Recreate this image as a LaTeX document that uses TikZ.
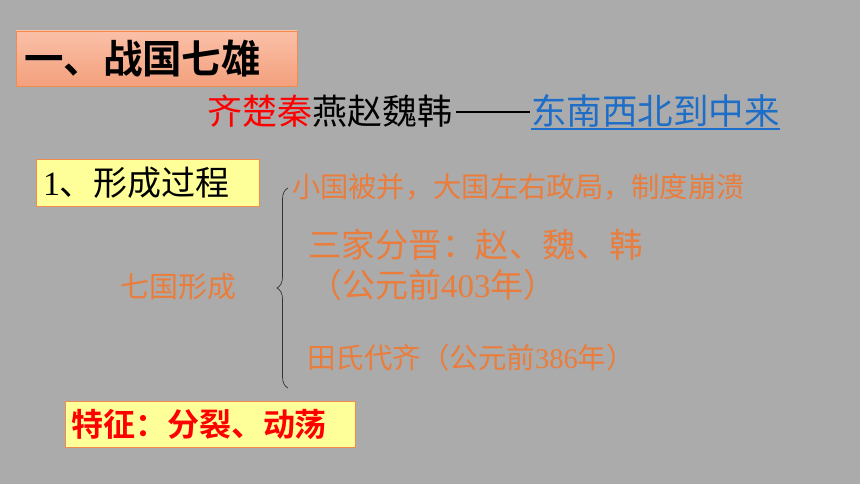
\documentclass[tikz,border=0pt]{standalone}
\usepackage{fontspec}
\setmainfont{Noto Sans CJK SC}[BoldFont={Noto Sans CJK SC Bold}]
\newfontfamily\cjk{Noto Sans CJK SC}[BoldFont={Noto Sans CJK SC Bold}]
\newfontfamily\numf{Liberation Serif}
\usetikzlibrary{decorations.pathreplacing}
\definecolor{bg}{RGB}{171,171,171}
\definecolor{salmonA}{RGB}{250,192,168}
\definecolor{salmonB}{RGB}{243,160,124}
\definecolor{boxline}{RGB}{240,140,80}
\definecolor{paleyellow}{RGB}{255,255,153}
\definecolor{orangetxt}{RGB}{235,125,60}
\definecolor{linkblue}{RGB}{30,110,200}
\definecolor{redtxt}{RGB}{255,0,0}
\tikzset{
  txt/.style={anchor=west,inner sep=0pt,outer sep=0pt},
  ybox/.style={draw=boxline,fill=paleyellow,line width=0.8pt,inner sep=0pt},
}
\begin{document}
\begin{tikzpicture}[x=1pt,y=-1pt]
\fill[bg] (0,0) rectangle (860,484);
\useasboundingbox (0,0) rectangle (860,484);
% title box
\shade[top color=salmonA,bottom color=salmonB,draw=boxline,line width=0.8pt] (16,31) rectangle (297,86);
\node[txt,font=\bfseries\fontsize{39.5}{41}\selectfont] (title) at (24,59) {一、战国七雄};
% mnemonic line
\node[txt,font=\fontsize{35}{37}\selectfont] (mn) at (207,111) {\textcolor{redtxt}{齐楚秦}燕赵魏韩};
\node[txt,linkblue,font=\fontsize{35.5}{37}\selectfont] (link) at (531,111) {东南西北到中来};
\coordinate (dashA) at (456,112);
\coordinate (dashB) at (530,112);
\draw[black,line width=1.8pt] (dashA) -- (dashB);
\coordinate (ulA) at (531,129);
\coordinate (ulB) at (780,129);
\draw[linkblue,line width=1.2pt] (ulA) -- (ulB);
% box 1
\draw[ybox] (36,159) rectangle (259,206);
\node[txt,font=\fontsize{34}{36}\selectfont] (step1) at (43,183) {\numf 1\cjk 、形成过程};
% brace
\coordinate (brB) at (288,388);
\coordinate (brT) at (288,188);
\draw[gray!40!black,line width=0.7pt,decorate,decoration={brace,amplitude=11pt}] (brB) -- (brT);
% orange texts
\node[txt,orangetxt,font=\fontsize{29}{31}\selectfont] (q) at (120,287) {七国形成};
\node[txt,orangetxt,font=\fontsize{28.3}{30}\selectfont] (a) at (292,187) {小国被并，大国左右政局，制度崩溃};
\node[txt,orangetxt,font=\fontsize{33.5}{35}\selectfont] (b1) at (308,245) {三家分晋：赵、魏、韩};
\node[txt,orangetxt,font=\fontsize{33}{35}\selectfont] (b2) at (309,285) {（公元前{\numf 403}年）};
\node[txt,orangetxt,font=\fontsize{28.5}{30}\selectfont] (c) at (307,358) {田氏代齐（公元前{\numf 386}年）};
% box 2
\draw[ybox] (65,401) rectangle (355,447);
\node[txt,redtxt,font=\bfseries\fontsize{32}{34}\selectfont] (feat) at (71,424) {特征：分裂、动荡};
\end{tikzpicture}
\end{document}
